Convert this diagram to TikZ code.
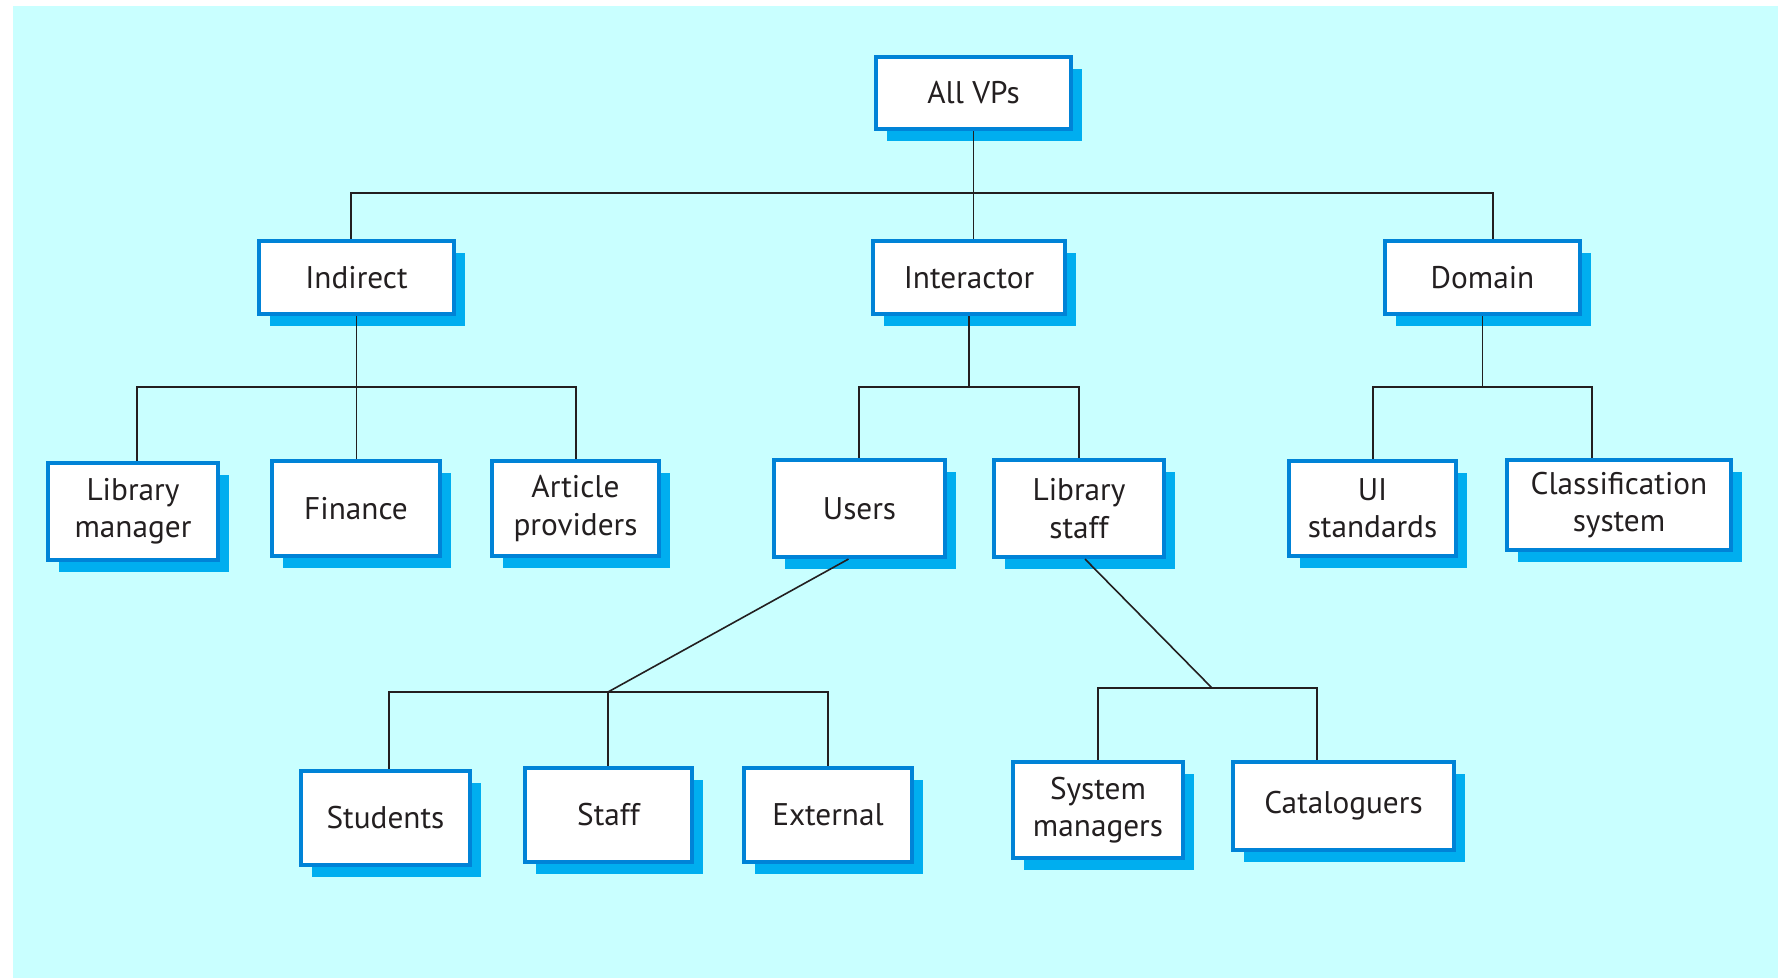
\documentclass[tikz,border=0pt]{standalone}
\usepackage{fontspec}
\setmainfont{PT Sans}
\usetikzlibrary{calc,shadows}
\definecolor{paper}{HTML}{C9FFFF}
\definecolor{boxline}{HTML}{0083D7}
\definecolor{boxshade}{HTML}{00AEEF}
\definecolor{ink}{HTML}{231F20}
\begin{document}
\begin{tikzpicture}[x=0.01cm,y=-0.01cm,
  vp/.style={draw=boxline, line width=0.04cm, fill=white, text=ink,
    align=center, inner sep=0pt,
    font=\fontsize{8.9}{10.6}\selectfont,
    general shadow={fill=boxshade, shadow xshift=0.11cm, shadow yshift=-0.12cm}},
  link/.style={draw=ink, line width=0.016cm}]
% page and background
\useasboundingbox (0,0) rectangle (1778,978);
\fill[paper] (13,6) rectangle (1778,978);

% level 0 and 1
\node[vp, minimum width=1.95cm, minimum height=0.72cm] (allvps) at (973.5,93) {All VPs};
\node[vp, minimum width=1.95cm, minimum height=0.73cm] (indirect) at (356.5,277.5) {Indirect};
\node[vp, minimum width=1.92cm, minimum height=0.73cm] (interactor) at (969,277.5) {Interactor};
\node[vp, minimum width=1.95cm, minimum height=0.73cm] (domain) at (1482.5,277.5) {Domain};

% level 2
\node[vp, minimum width=1.70cm, minimum height=0.97cm] (libmgr) at (133,511.5) {Library\\manager};
\node[vp, minimum width=1.68cm, minimum height=0.95cm] (finance) at (356,508.5) {Finance};
\node[vp, minimum width=1.67cm, minimum height=0.95cm] (article) at (575.5,508.5) {Article\\providers};
\node[vp, minimum width=1.71cm, minimum height=0.97cm] (users) at (859.5,508.5) {Users};
\node[vp, minimum width=1.70cm, minimum height=0.97cm] (libstaff) at (1079,508.5) {Library\\staff};
\node[vp, minimum width=1.67cm, minimum height=0.95cm] (uistd) at (1372.5,508.5) {UI\\standards};
\node[vp, minimum width=2.24cm, minimum height=0.90cm] (classif) at (1619,505) {Classification\\system};

% level 3
\node[vp, minimum width=1.69cm, minimum height=0.94cm] (students) at (385.5,818) {Students};
\node[vp, minimum width=1.67cm, minimum height=0.94cm] (staff) at (608.5,815) {Staff};
\node[vp, minimum width=1.68cm, minimum height=0.94cm] (external) at (828,815) {External};
\node[vp, minimum width=1.70cm, minimum height=0.96cm] (sysmgr) at (1098,810) {System\\managers};
\node[vp, minimum width=2.21cm, minimum height=0.88cm] (catal) at (1343.5,806) {Cataloguers};

% junction points of the tree
\coordinate (b0l) at (351,193);
\coordinate (b0r) at (1493,193);
\coordinate (b1l) at (137,387);
\coordinate (b1r) at (576,387);
\coordinate (b2l) at (859,387);
\coordinate (b2r) at (1079,387);
\coordinate (b3l) at (1373,387);
\coordinate (b3r) at (1592,387);
\coordinate (b4l) at (389,692);
\coordinate (b4m) at (608,692);
\coordinate (b4r) at (828,692);
\coordinate (b5l) at (1098,688);
\coordinate (b5m) at (1212,688);
\coordinate (b5r) at (1317,688);

% All VPs
\draw[link] (allvps.south) -- (interactor.north -| allvps.south);
\draw[link] (indirect.north -| b0l) -- (b0l) -- (b0r) -- (domain.north -| b0r);

% Indirect
\draw[link] (indirect.south) -- (finance.north -| indirect.south);
\draw[link] (libmgr.north -| b1l) -- (b1l) -- (b1r) -- (article.north -| b1r);

% Interactor
\draw[link] (interactor.south) -- (interactor.south |- b2l);
\draw[link] (users.north -| b2l) -- (b2l) -- (b2r) -- (libstaff.north -| b2r);

% Domain
\draw[link] (domain.south) -- (domain.south |- b3l);
\draw[link] (uistd.north -| b3l) -- (b3l) -- (b3r) -- (classif.north -| b3r);

% Users
\draw[link] ($(users.south)+(-11,0)$) -- (b4m);
\draw[link] (students.north -| b4l) -- (b4l) -- (b4r) -- (external.north -| b4r);
\draw[link] (b4m) -- (staff.north -| b4m);

% Library staff
\draw[link] ($(libstaff.south)+(6,0)$) -- (b5m);
\draw[link] (sysmgr.north -| b5l) -- (b5l) -- (b5r) -- (catal.north -| b5r);
\end{tikzpicture}
\end{document}
